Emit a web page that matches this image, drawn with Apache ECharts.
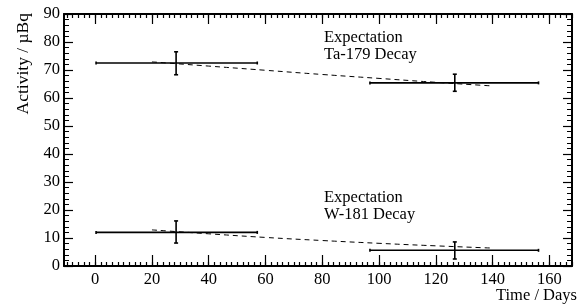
<!DOCTYPE html>
<html>
<head>
<meta charset="utf-8">
<script src="https://cdn.jsdelivr.net/npm/echarts@6/dist/echarts.min.js"></script>
<style>
 html, body { margin: 0; padding: 0; background: #fff; }
 #main { width: 582px; height: 304px; }
</style>
</head>
<body>
<div id="main"></div>
<script>
 var myChart = echarts.init(document.getElementById('main'));

 // measurement points (x = days, y = activity in uBq)
 var measDays = [28.5, 126.7];
 var dayLow = [0.3, 96.8];
 var dayHigh = [57.1, 156.2];

 var taAct = [72.5, 65.4];
 var taLow = [68.3, 62.4];
 var taHigh = [76.5, 68.5];

 var wAct = [12.0, 5.6];
 var wLow = [8.2, 2.5];
 var wHigh = [16.1, 8.6];

 // expected decay curves (dashed)
 var expDays = [20, 40, 60, 80, 100, 120, 140];
 var taExp = [72.9, 71.4, 69.9, 68.4, 67.0, 65.6, 64.3];
 var wExp = [12.9, 11.5, 10.2, 9.1, 8.1, 7.2, 6.4];

 // axis ticks
 var xLabels = [0, 20, 40, 60, 80, 100, 120, 140, 160];
 var xMinor = [];
 for (var t = -10; t <= 168; t += 2) { xMinor.push(t); }

 var font = "'Liberation Serif', 'Times New Roman', serif";

 function points(act, low, high) {
     var out = [];
     for (var i = 0; i < measDays.length; i++) {
         out.push([measDays[i], act[i], dayLow[i], dayHigh[i], low[i], high[i]]);
     }
     return out;
 }

 function curve(vals) {
     return expDays.map(function (d, i) { return [d, vals[i]]; });
 }

 function renderCross(params, api) {
     var c = api.coord([api.value(0), api.value(1)]);
     var l = api.coord([api.value(2), api.value(1)]);
     var r = api.coord([api.value(3), api.value(1)]);
     var lo = api.coord([api.value(0), api.value(4)]);
     var hi = api.coord([api.value(0), api.value(5)]);
     var st = { stroke: '#000', lineWidth: 1.6 };
     return {
         type: 'group',
         children: [
             { type: 'line', shape: { x1: l[0], y1: c[1], x2: r[0], y2: c[1] }, style: st },
             { type: 'line', shape: { x1: l[0], y1: c[1] - 1.5, x2: l[0], y2: c[1] + 1.5 }, style: st },
             { type: 'line', shape: { x1: r[0], y1: c[1] - 1.5, x2: r[0], y2: c[1] + 1.5 }, style: st },
             { type: 'line', shape: { x1: c[0], y1: lo[1], x2: c[0], y2: hi[1] }, style: st },
             { type: 'line', shape: { x1: c[0] - 2, y1: lo[1], x2: c[0] + 2, y2: lo[1] }, style: st },
             { type: 'line', shape: { x1: c[0] - 2, y1: hi[1], x2: c[0] + 2, y2: hi[1] }, style: st }
         ]
     };
 }

 function xAx(pos, ticks, len, showLine, showLabel) {
     return {
         type: 'value', position: pos, min: -11, max: 168,
         axisLine: { show: showLine, onZero: false, lineStyle: { color: '#000', width: 2 } },
         axisTick: { show: true, inside: true, length: len, customValues: ticks,
                     lineStyle: { color: '#000', width: 1.2 } },
         axisLabel: { show: showLabel, customValues: xLabels, color: '#000',
                      fontFamily: font, fontSize: 16.5, margin: 5 },
         splitLine: { show: false }
     };
 }

 function yAx(pos, showLabel) {
     return {
         type: 'value', position: pos, min: 0, max: 90, interval: 10,
         axisLine: { show: true, onZero: false, lineStyle: { color: '#000', width: 2 } },
         axisTick: { show: true, inside: true, length: 9, lineStyle: { color: '#000', width: 1.2 } },
         minorTick: { show: true, splitNumber: 5, length: 5, lineStyle: { color: '#000', width: 1 } },
         axisLabel: { show: showLabel, color: '#000', fontFamily: font, fontSize: 16.5, margin: 4 },
         splitLine: { show: false }
     };
 }

 var option = {
     animation: false,
     backgroundColor: '#fff',
     grid: { left: 64, top: 14, right: 10, bottom: 38 },
     xAxis: [
         xAx('bottom', xLabels, 11, true, true),
         xAx('bottom', xMinor, 4, false, false),
         xAx('top', xLabels, 10, true, false),
         xAx('top', xMinor, 4, false, false)
     ],
     yAxis: [
         yAx('left', true),
         yAx('right', false)
     ],
     graphic: [
         { type: 'text', left: 324, top: 29,
           style: { text: 'Expectation\nTa-179 Decay', font: '16.5px ' + font, fill: '#000', lineHeight: 17 } },
         { type: 'text', left: 324, top: 189,
           style: { text: 'Expectation\nW-181 Decay', font: '16.5px ' + font, fill: '#000', lineHeight: 17 } },
         { type: 'text', x: 577, y: 296,
           style: { text: 'Time / Days', font: '16.5px ' + font, fill: '#000',
                    textAlign: 'right', textVerticalAlign: 'middle' } },
         { type: 'text', x: 23, y: 13, rotation: Math.PI / 2,
           style: { text: 'Activity / µBq', font: '17.5px ' + font, fill: '#000',
                    textAlign: 'right', textVerticalAlign: 'middle' } }
     ],
     series: [
         { name: 'Ta-179 exp', type: 'line', data: curve(taExp), smooth: true, symbol: 'none',
           lineStyle: { color: '#000', width: 1, type: [5, 4] } },
         { name: 'W-181 exp', type: 'line', data: curve(wExp), smooth: true, symbol: 'none',
           lineStyle: { color: '#000', width: 1, type: [5, 4] } },
         { name: 'Ta-179', type: 'custom', renderItem: renderCross, data: points(taAct, taLow, taHigh) },
         { name: 'W-181', type: 'custom', renderItem: renderCross, data: points(wAct, wLow, wHigh) }
     ]
 };
 myChart.setOption(option);
</script>
</body>
</html>
